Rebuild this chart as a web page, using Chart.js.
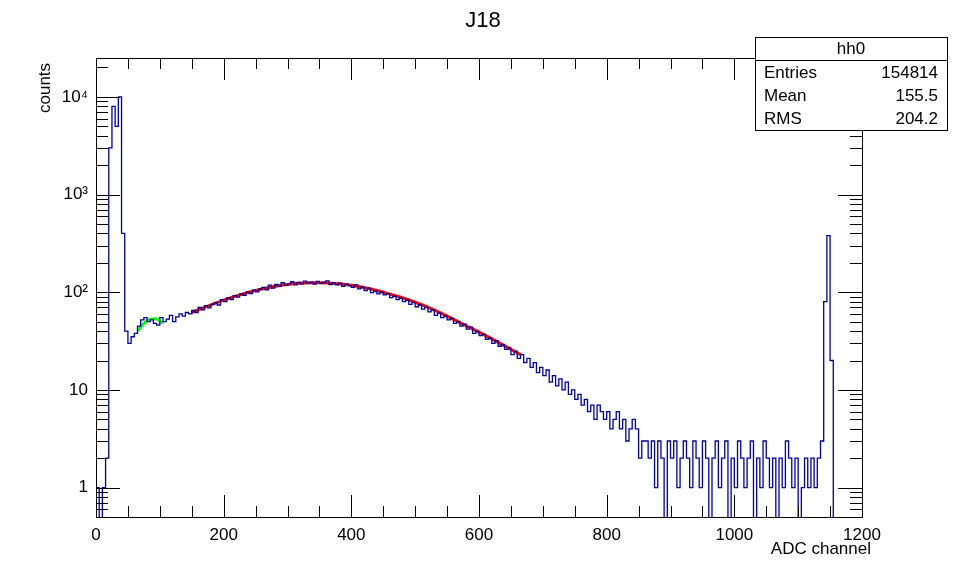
<!DOCTYPE html>
<html>
<head>
<meta charset="utf-8">
<script src="https://cdn.jsdelivr.net/npm/chart.js@4/dist/chart.umd.min.js"></script>
<style>
  body { margin: 0; background: #fff; }
</style>
</head>
<body>
<canvas id="c" width="968" height="574"></canvas>
<script>
// histogram hh0, 5-channel bins starting at channel 0
const binWidth = 5;
const counts = [
  1, 1, 0.01, 1, 2, 3000, 8000, 5000, 10000, 400, 40, 30,
  35, 38, 45, 52, 55, 50, 52, 48, 46, 55, 50, 53, 58, 50, 56, 60, 57, 62, 60,
  65, 62, 70, 66, 73, 69, 75, 78, 74, 84, 80, 88, 84, 92, 89, 96, 93, 100, 97, 105,
  101, 108, 112, 106, 118, 110, 120, 115, 125, 118, 122, 128, 119, 126, 122, 130, 124, 127, 121, 129,
  123, 126, 131, 120, 125, 119, 124, 115, 121, 117, 112, 119, 108, 113, 104, 110, 99, 103, 96, 100,
  94, 97, 88, 91, 84, 87, 80, 83, 75, 79, 71, 74, 67, 70, 63, 66, 58, 61, 55, 57,
  52, 54, 48, 50, 45, 47, 42, 44, 38, 40, 36, 37, 33, 34, 30, 32, 28, 29, 26, 27,
  23, 25, 21, 23, 19, 21, 17, 19, 15, 17, 14, 16, 12, 14, 11, 13, 10, 12, 9, 10,
  8, 9, 7, 8, 6, 7, 5, 7, 6, 5, 6, 4, 5, 6, 4, 5, 3, 4, 5, 4,
  2, 3, 3, 2, 3, 1, 3, 2, 0.01, 3, 2, 3, 1, 2, 3, 2, 1, 3, 2, 1,
  3, 2, 0.01, 2, 3, 1, 2, 3, 0.01, 2, 1, 3, 2, 1, 2, 3, 0.01, 2, 1, 3,
  2, 1, 2, 0.01, 2, 1, 3, 2, 1, 2, 0.01, 1, 2, 1, 2, 1, 2, 3, 80, 380,
  20, 0.01
];
// fit curves
const redX = [150, 175, 200, 225, 250, 275, 300, 325, 350, 375, 400, 425, 450, 475, 500, 525, 550, 575, 600, 625, 650, 665];
const redY = [62, 72, 83, 94, 104, 113, 120, 124, 125, 123, 118, 110, 100, 90, 79, 68, 57, 47, 39, 32, 26, 23];
const greenX = [65, 75, 85, 95, 105];
const greenY = [40, 48, 53, 53, 48];
const xTicks = [0, 200, 400, 600, 800, 1000, 1200];
const yTicks = [1, 10, 100, 1000, 10000];
const yLabels = ["1", "10", "10\u00B2", "10\u00B3", "10\u2074"];
const stats = [["Entries", "154814"], ["Mean", "155.5"], ["RMS", "204.2"]];

const histPts = counts.map((v, i) => ({ x: i * binWidth, y: v }));
const FONT = "Liberation Sans, Arial, sans-serif";

const frame = {
  id: "frame",
  afterDraw(chart) {
    const { ctx, chartArea: a, scales } = chart;
    const xs = scales.x, ys = scales.y;
    ctx.save();
    ctx.strokeStyle = "#000";
    ctx.lineWidth = 1;
    ctx.strokeRect(a.left + 0.5, a.top + 0.5, a.right - a.left, a.bottom - a.top);
    ctx.beginPath();
    for (let v = 0; v <= 1200; v += 50) {
      const p = Math.round(xs.getPixelForValue(v)) + 0.5;
      const len = v % 200 === 0 ? 22 : 11;
      ctx.moveTo(p, a.bottom); ctx.lineTo(p, a.bottom - len);
      ctx.moveTo(p, a.top); ctx.lineTo(p, a.top + len);
    }
    for (let d = 0.1; d <= 10000; d *= 10) {
      for (let k = 1; k <= 9; k++) {
        const v = d * k;
        if (v < ys.min || v > ys.max) continue;
        const p = Math.round(ys.getPixelForValue(v)) + 0.5;
        const len = k === 1 ? 24 : 12;
        ctx.moveTo(a.left, p); ctx.lineTo(a.left + len, p);
        ctx.moveTo(a.right, p); ctx.lineTo(a.right - len, p);
      }
    }
    ctx.stroke();

    ctx.fillStyle = "#000";
    ctx.font = "22px " + FONT;
    ctx.textAlign = "center";
    ctx.textBaseline = "middle";
    ctx.fillText("J18", 483, 21);

    ctx.font = "17px " + FONT;
    ctx.textAlign = "right";
    ctx.textBaseline = "top";
    ctx.fillText("ADC channel", 871, 541);
    ctx.save();
    ctx.translate(45, 113);
    ctx.rotate(-Math.PI / 2);
    ctx.textAlign = "left";
    ctx.textBaseline = "middle";
    ctx.fillText("counts", 0, 0);
    ctx.restore();

    // stats box
    ctx.fillStyle = "#fff";
    ctx.fillRect(755, 37, 192, 93);
    ctx.strokeRect(755.5, 37.5, 192, 93);
    ctx.beginPath();
    ctx.moveTo(755, 60.5); ctx.lineTo(947, 60.5);
    ctx.stroke();
    ctx.fillStyle = "#000";
    ctx.textBaseline = "middle";
    ctx.textAlign = "center";
    ctx.fillText("hh0", 851, 49);
    stats.forEach((r, i) => {
      const y = 73 + i * 23;
      ctx.textAlign = "left";
      ctx.fillText(r[0], 764, y);
      ctx.textAlign = "right";
      ctx.fillText(r[1], 938, y);
    });
    ctx.restore();
  }
};

new Chart(document.getElementById("c"), {
  type: "line",
  data: {
    datasets: [
      { data: histPts, borderColor: "#00009c", borderWidth: 1.3, stepped: "after", pointRadius: 0, fill: false },
      { data: redX.map((x, i) => ({ x, y: redY[i] })), borderColor: "#ff0000", borderWidth: 3, pointRadius: 0, tension: 0.4 },
      { data: greenX.map((x, i) => ({ x, y: greenY[i] })), borderColor: "#00ff00", borderWidth: 3, pointRadius: 0, tension: 0.4 }
    ]
  },
  options: {
    responsive: false,
    animation: false,
    devicePixelRatio: 1,
    layout: { padding: { left: 0, top: 58, right: 106, bottom: 27 } },
    plugins: { legend: { display: false }, tooltip: { enabled: false } },
    scales: {
      x: {
        type: "linear", min: 0, max: 1200,
        afterBuildTicks: (s) => { s.ticks = xTicks.map(v => ({ value: v })); },
        afterFit: (s) => { s.height = 30; },
        grid: { display: false, drawTicks: false },
        border: { display: false },
        ticks: { color: "#000", font: { family: FONT, size: 17 }, padding: 8, maxRotation: 0, callback: (v) => String(v) }
      },
      y: {
        type: "logarithmic", min: 0.5, max: 25000,
        afterBuildTicks: (s) => { s.ticks = yTicks.map(v => ({ value: v })); },
        afterFit: (s) => { s.width = 96; },
        grid: { display: false, drawTicks: false },
        border: { display: false },
        ticks: {
          color: "#000", font: { family: FONT, size: 17 }, padding: 8,
          callback: (v) => yLabels[yTicks.indexOf(v)] || ""
        }
      }
    }
  },
  plugins: [frame]
});
</script>
</body>
</html>
